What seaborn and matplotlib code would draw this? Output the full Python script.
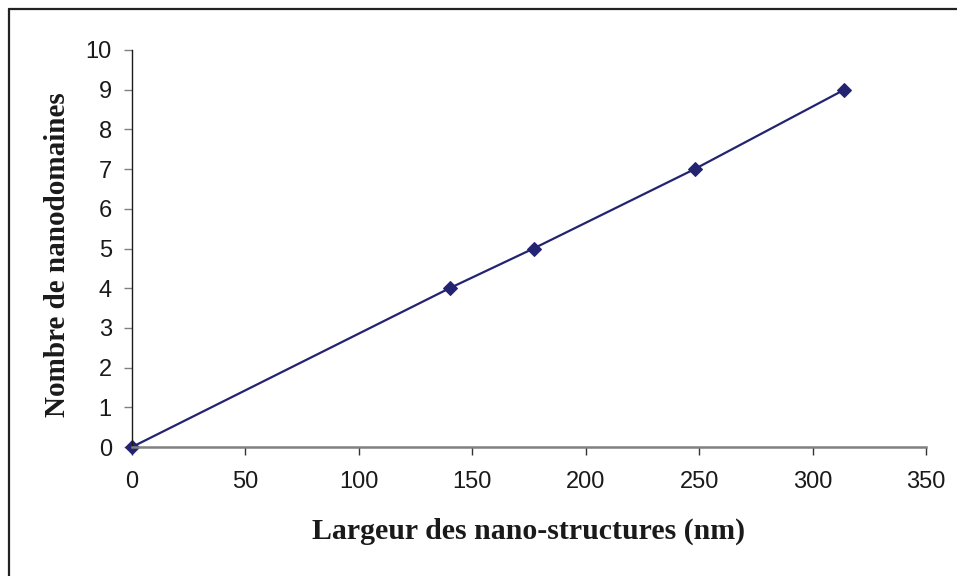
import pandas as pd
import seaborn as sns
import matplotlib.pyplot as plt
from matplotlib.lines import Line2D

sns.set_style("white")
plt.rcParams['font.family'] = ['Liberation Sans', 'DejaVu Sans']

# values
largeur = [0, 140, 177, 248, 314]
nanodomaines = [0, 4, 5, 7, 9]
x_ticks = [0, 50, 100, 150, 200, 250, 300, 350]
y_ticks = [0, 1, 2, 3, 4, 5, 6, 7, 8, 9, 10]

df = pd.DataFrame({'Largeur': largeur, 'Nombre': nanodomaines})

fig = plt.figure(figsize=(9.57, 5.76), dpi=100)
ax = fig.add_axes([132 / 957, 1 - 447 / 576, (926 - 132) / 957, (447 - 50) / 576])

navy = '#232372'
sns.lineplot(data=df, x='Largeur', y='Nombre', ax=ax, color=navy, linewidth=1.6,
             marker='D', markersize=7.5, markeredgecolor=navy, markerfacecolor=navy)

ax.set_xlim(0, 350)
ax.set_ylim(0, 10)
ax.set_xticks(x_ticks)
ax.set_yticks(y_ticks)
ax.tick_params(axis='both', labelsize=17, labelcolor='#1a1a1a',
               length=6, width=1, direction='out', bottom=True, left=True)
ax.tick_params(axis='x', pad=11, colors='#333333', labelcolor='#1a1a1a')
ax.tick_params(axis='y', pad=8.5, colors='#808080', labelcolor='#1a1a1a')

for s in ['top', 'right']:
    ax.spines[s].set_visible(False)
ax.spines['left'].set_color('#1a1a1a')
ax.spines['left'].set_linewidth(1)
ax.spines['bottom'].set_color('#808080')
ax.spines['bottom'].set_linewidth(1.8)
ax.set_zorder(1)
for ln in ax.lines:
    ln.set_clip_on(False)

serif = ['Liberation Serif', 'DejaVu Serif']
ax.set_xlabel('Largeur des nano-structures (nm)', fontsize=21.5, fontweight='bold',
              family=serif, color='#1a1a1a')
ax.set_ylabel('Nombre de nanodomaines', fontsize=21, fontweight='bold',
              family=serif, color='#1a1a1a')
ax.xaxis.set_label_coords(0.5, -0.179)
ax.yaxis.set_label_coords(-0.077, 0.484)

# outer chart border (only left and top visible in the crop)
fig.add_artist(Line2D([8.5 / 957, 8.5 / 957], [0, 1 - 9 / 576], color='#222222', linewidth=1.6))
fig.add_artist(Line2D([8.5 / 957, 1], [1 - 9 / 576, 1 - 9 / 576], color='#222222', linewidth=1.6))

fig.savefig('out.png', dpi=100)
